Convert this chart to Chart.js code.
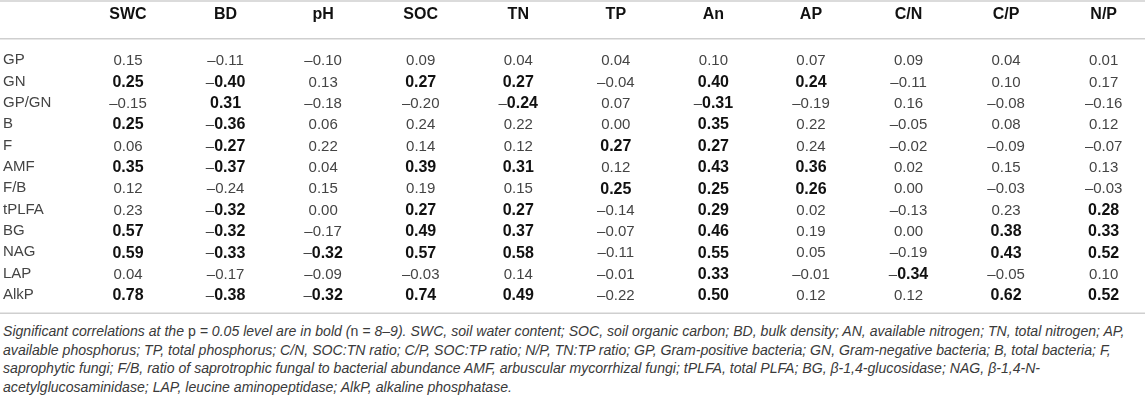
<!DOCTYPE html>
<html lang="en">
<head>
    <meta charset="UTF-8">
    <title>Correlation table</title>
    <script src="https://cdn.jsdelivr.net/npm/chart.js"></script>
    <style>
body {
    margin: 0;
    background: #fff;
    font-family: "Liberation Sans", Arial, sans-serif;
}
#wrap {
    position: relative;
    width: 1145px;
    height: 320px;
}
.note {
    margin-top: 2px;
    padding-left: 3px;
    font-style: italic;
    font-size: 14.1px;
    line-height: 18.7px;
    color: #3a3a3a;
    white-space: nowrap;
}
.note span { font-style: normal; }
    </style>
</head>
<body>
    <div id="wrap"><canvas id="table"></canvas></div>
    <div class="note">
        <div>Significant correlations at the <span>p</span> = 0.05 level are in bold (<span>n</span> = 8–9). SWC, soil water content; SOC, soil organic carbon; BD, bulk density; AN, available nitrogen; TN, total nitrogen; AP,</div>
        <div>available phosphorus; TP, total phosphorus; C/N, SOC:TN ratio; C/P, SOC:TP ratio; N/P, TN:TP ratio; GP, Gram-positive bacteria; GN, Gram-negative bacteria; B, total bacteria; F,</div>
        <div>saprophytic fungi; F/B, ratio of saprotrophic fungal to bacterial abundance AMF, arbuscular mycorrhizal fungi; tPLFA, total PLFA; BG, β-1,4-glucosidase; NAG, β-1,4-N-</div>
        <div>acetylglucosaminidase; LAP, leucine aminopeptidase; AlkP, alkaline phosphatase.</div>
    </div>
    <script>
// column headers and row labels
const columns = ['SWC', 'BD', 'pH', 'SOC', 'TN', 'TP', 'An', 'AP', 'C/N', 'C/P', 'N/P'];
const rows = ['GP', 'GN', 'GP/GN', 'B', 'F', 'AMF', 'F/B', 'tPLFA', 'BG', 'NAG', 'LAP', 'AlkP'];

// correlation coefficients, one array per row
const valGP    = [0.15, -0.11, -0.10, 0.09, 0.04, 0.04, 0.10, 0.07, 0.09, 0.04, 0.01];
const valGN    = [0.25, -0.40, 0.13, 0.27, 0.27, -0.04, 0.40, 0.24, -0.11, 0.10, 0.17];
const valGPGN  = [-0.15, 0.31, -0.18, -0.20, -0.24, 0.07, -0.31, -0.19, 0.16, -0.08, -0.16];
const valB     = [0.25, -0.36, 0.06, 0.24, 0.22, 0.00, 0.35, 0.22, -0.05, 0.08, 0.12];
const valF     = [0.06, -0.27, 0.22, 0.14, 0.12, 0.27, 0.27, 0.24, -0.02, -0.09, -0.07];
const valAMF   = [0.35, -0.37, 0.04, 0.39, 0.31, 0.12, 0.43, 0.36, 0.02, 0.15, 0.13];
const valFB    = [0.12, -0.24, 0.15, 0.19, 0.15, 0.25, 0.25, 0.26, 0.00, -0.03, -0.03];
const valTPLFA = [0.23, -0.32, 0.00, 0.27, 0.27, -0.14, 0.29, 0.02, -0.13, 0.23, 0.28];
const valBG    = [0.57, -0.32, -0.17, 0.49, 0.37, -0.07, 0.46, 0.19, 0.00, 0.38, 0.33];
const valNAG   = [0.59, -0.33, -0.32, 0.57, 0.58, -0.11, 0.55, 0.05, -0.19, 0.43, 0.52];
const valLAP   = [0.04, -0.17, -0.09, -0.03, 0.14, -0.01, 0.33, -0.01, -0.34, -0.05, 0.10];
const valAlkP  = [0.78, -0.38, -0.32, 0.74, 0.49, -0.22, 0.50, 0.12, 0.12, 0.62, 0.52];

// significant (bold) cells, 1 = bold
const sigGP    = [0, 0, 0, 0, 0, 0, 0, 0, 0, 0, 0];
const sigGN    = [1, 1, 0, 1, 1, 0, 1, 1, 0, 0, 0];
const sigGPGN  = [0, 1, 0, 0, 1, 0, 1, 0, 0, 0, 0];
const sigB     = [1, 1, 0, 0, 0, 0, 1, 0, 0, 0, 0];
const sigF     = [0, 1, 0, 0, 0, 1, 1, 0, 0, 0, 0];
const sigAMF   = [1, 1, 0, 1, 1, 0, 1, 1, 0, 0, 0];
const sigFB    = [0, 0, 0, 0, 0, 1, 1, 1, 0, 0, 0];
const sigTPLFA = [0, 1, 0, 1, 1, 0, 1, 0, 0, 0, 1];
const sigBG    = [1, 1, 0, 1, 1, 0, 1, 0, 0, 1, 1];
const sigNAG   = [1, 1, 1, 1, 1, 0, 1, 0, 0, 1, 1];
const sigLAP   = [0, 0, 0, 0, 0, 0, 1, 0, 1, 0, 0];
const sigAlkP  = [1, 1, 1, 1, 1, 0, 1, 0, 0, 1, 1];

const values = [valGP, valGN, valGPGN, valB, valF, valAMF, valFB, valTPLFA, valBG, valNAG, valLAP, valAlkP];
const signif = [sigGP, sigGN, sigGPGN, sigB, sigF, sigAMF, sigFB, sigTPLFA, sigBG, sigNAG, sigLAP, sigAlkP];

const FONT = '"Liberation Sans", Arial, sans-serif';

// one invisible point per cell, the plugin writes the number at it
const cells = [];
rows.forEach((r, i) => {
    columns.forEach((c, j) => {
        cells.push({ x: c, y: r, v: values[i][j], b: signif[i][j] });
    });
});

const cellText = {
    id: 'cellText',
    afterDatasetsDraw(chart) {
        const ctx = chart.ctx;
        const meta = chart.getDatasetMeta(0);
        const light = '15px ' + FONT;
        const heavy = 'bold 16px ' + FONT;
        ctx.save();
        ctx.textBaseline = 'middle';
        ctx.textAlign = 'left';
        meta.data.forEach((pt, k) => {
            const d = cells[k];
            const digits = Math.abs(d.v).toFixed(2);
            const dash = d.v < 0 ? '\u2013' : '';
            ctx.font = light;
            const wd = ctx.measureText(dash).width;
            ctx.font = d.b ? heavy : light;
            const wn = ctx.measureText(digits).width;
            const x = pt.x - (wd + wn) / 2;
            ctx.font = light;
            ctx.fillStyle = '#444';
            if (dash) ctx.fillText(dash, x, pt.y + 1);
            ctx.font = d.b ? heavy : light;
            ctx.fillStyle = d.b ? '#111' : '#444';
            ctx.fillText(digits, x + wd, pt.y + 1);
        });
        ctx.restore();
    }
};

// horizontal rules: top, under the header, bottom
const rules = {
    id: 'rules',
    afterDraw(chart) {
        const ctx = chart.ctx;
        const ys = chart.scales.y;
        const step = ys.getPixelForValue(1) - ys.getPixelForValue(0);
        const top = chart.chartArea.top;
        const bottom = chart.chartArea.bottom;
        ctx.save();
        ctx.strokeStyle = '#cfcfcf';
        ctx.lineWidth = 1.5;
        [1, top - step, bottom + step * 0.85].forEach(y => {
            ctx.beginPath();
            ctx.moveTo(0, y);
            ctx.lineTo(chart.width, y);
            ctx.stroke();
        });
        ctx.restore();
    }
};

new Chart(document.getElementById('table'), {
    type: 'scatter',
    data: {
        datasets: [{
            data: cells,
            pointRadius: 0,
            pointHoverRadius: 0
        }]
    },
    options: {
        responsive: true,
        maintainAspectRatio: false,
        animation: false,
        events: [],
        layout: { padding: { left: 3, right: 23, top: 0, bottom: 25 } },
        plugins: {
            legend: { display: false },
            tooltip: { enabled: false }
        },
        scales: {
            x: {
                type: 'category',
                labels: columns,
                position: 'top',
                offset: false,
                grid: { display: false },
                border: { display: false },
                ticks: {
                    autoSkip: false,
                    maxRotation: 0,
                    padding: 28,
                    color: '#111',
                    font: { family: FONT, size: 16, weight: 'bold' }
                },
                afterFit(scale) { scale.height = 60; }
            },
            y: {
                type: 'category',
                labels: rows,
                offset: false,
                grid: { display: false },
                border: { display: false },
                ticks: {
                    autoSkip: false,
                    crossAlign: 'far',
                    color: '#444',
                    font: { family: FONT, size: 15 }
                },
                afterFit(scale) { scale.width = 125; }
            }
        }
    },
    plugins: [cellText, rules]
});
    </script>
</body>
</html>
